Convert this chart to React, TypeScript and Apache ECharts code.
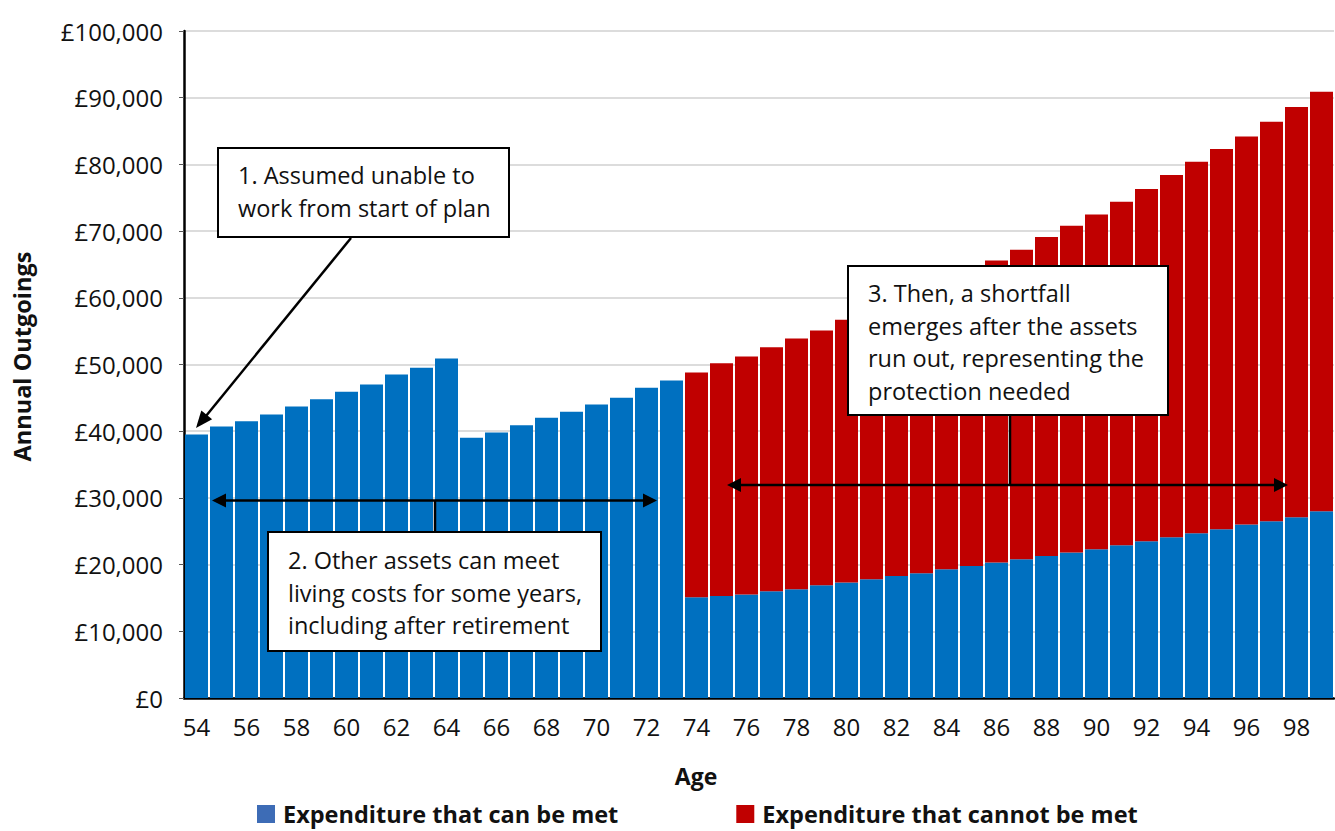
import React, { useEffect, useRef } from "react";
import * as echarts from "echarts";

const ages = [
  "54", "55", "56", "57", "58", "59", "60", "61", "62", "63", "64", "65", "66", "67", "68", "69", "70", "71", "72", "73",
  "74", "75", "76", "77", "78", "79", "80", "81", "82", "83", "84", "85", "86", "87", "88", "89", "90", "91", "92", "93",
  "94", "95", "96", "97", "98", "99",
];

const metValues = [
  39500, 40700, 41500, 42500, 43700, 44800, 45900, 47000, 48500, 49500, 50900,
  39000, 39800, 40900, 42000, 42900, 44000, 45000, 46500, 47600,
  15100, 15300, 15500, 16000, 16300, 16900, 17300, 17800, 18300, 18700, 19300, 19800, 20300,
  20800, 21300, 21800, 22300, 22900, 23500, 24100, 24700, 25300, 26000, 26500, 27100, 28000,
];

const unmetValues = [
  0, 0, 0, 0, 0, 0, 0, 0, 0, 0, 0, 0, 0, 0, 0, 0, 0, 0, 0, 0,
  33700, 34900, 35700, 36600, 37600, 38200, 39400, 40500, 41600, 42800, 43500, 44400, 45300,
  46400, 47800, 49000, 50200, 51500, 52800, 54300, 55700, 57000, 58200, 59900, 61500, 62900,
];

const seriesNames = ["Expenditure that can be met", "Expenditure that cannot be met"];
const yTicks = { min: 0, max: 100000, interval: 10000 };

const FONT = "'Open Sans', 'Noto Sans', sans-serif";

function arrowHead(tipX: number, tipY: number, dirX: number, dirY: number, len = 15, half = 7) {
  const l = Math.hypot(dirX, dirY);
  const ux = dirX / l;
  const uy = dirY / l;
  const bx = tipX - ux * len;
  const by = tipY - uy * len;
  const px = -uy * half;
  const py = ux * half;
  return {
    type: "polygon",
    shape: { points: [[tipX, tipY], [bx + px, by + py], [bx - px, by - py]] },
    style: { fill: "#000" },
    z: 100,
  };
}

function box(x: number, y: number, w: number, h: number, lines: string[], tx: number, ty: number) {
  return [
    {
      type: "rect",
      shape: { x, y, width: w, height: h },
      style: { fill: "#fff", stroke: "#000", lineWidth: 2 },
      z: 100,
    },
    {
      type: "text",
      x: tx,
      y: ty,
      style: {
        text: lines.join("\n"),
        font: `23.5px ${FONT}`,
        fill: "#111",
        lineHeight: 32.5,
        verticalAlign: "top",
        align: "left",
      },
      z: 101,
    },
  ];
}

function line(x1: number, y1: number, x2: number, y2: number) {
  return {
    type: "line",
    shape: { x1, y1, x2, y2 },
    style: { stroke: "#000", lineWidth: 2.5 },
    z: 100,
  };
}

export default function App() {
  const ref = useRef<HTMLDivElement>(null);

  useEffect(() => {
    document.body.style.margin = "0";
    const chart = echarts.init(ref.current!, null, { renderer: "svg" });

    const graphic: any[] = [
      // Box 1
      ...box(218, 148, 291, 89, ["1. Assumed unable to", "work from start of plan"], 238, 159),
      line(351, 238, 206, 416),
      arrowHead(196, 428, -154, 189, 17, 7),
      // Arrow 2
      line(222, 500.5, 647, 500.5),
      arrowHead(212, 500.5, -1, 0, 14, 7),
      arrowHead(657, 500.5, 1, 0, 14, 7),
      line(435, 500.5, 435, 532),
      ...box(268, 532, 333, 119, ["2. Other assets can meet", "living costs for some years,", "including after retirement"], 288, 544),
      // Arrow 3
      line(737, 485, 1277, 485),
      arrowHead(727, 485, -1, 0, 14, 7),
      arrowHead(1288, 485, 1, 0, 14, 7),
      line(1010, 415, 1010, 486),
      ...box(848, 266, 320, 149, ["3. Then, a shortfall", "emerges after the assets", "run out, representing the", "protection needed"], 868, 277),
    ];

    chart.setOption({
      animation: false,
      backgroundColor: "#fff",
      textStyle: { fontFamily: FONT },
      grid: { left: 184, right: 1, top: 31, bottom: 133, containLabel: false, outerBoundsMode: "none" },
      legend: {
        left: 257,
        top: 802,
        padding: 0,
        itemWidth: 18,
        itemHeight: 18,
        itemGap: 118,
        icon: "rect",
        textStyle: {
          fontFamily: FONT,
          fontSize: 23.5,
          lineHeight: 24,
          fontWeight: "bold",
          color: "#111",
          padding: [0, 0, 0, 3],
        },
        data: [
          { name: seriesNames[0], itemStyle: { color: "#3D6CB6" } },
          { name: seriesNames[1], itemStyle: { color: "#C00000" } },
        ],
      },
      xAxis: {
        type: "category",
        data: ages,
        name: "Age",
        nameLocation: "middle",
        nameGap: 66,
        nameTextStyle: { fontFamily: FONT, fontSize: 23, fontWeight: "bold", color: "#111", padding: [0, 126, 0, 0] },
        axisLine: { lineStyle: { color: "#000", width: 2.5 } },
        axisTick: { show: false },
        axisLabel: { interval: 1, fontSize: 24, color: "#111", margin: 16, fontFamily: FONT },
      },
      yAxis: {
        type: "value",
        min: yTicks.min,
        max: yTicks.max,
        interval: yTicks.interval,
        name: "Annual Outgoings",
        nameLocation: "middle",
        nameRotate: 90,
        nameGap: 150,
        nameTextStyle: { fontFamily: FONT, fontSize: 23.5, fontWeight: "bold", color: "#111", padding: [0, 0, 0, 16] },
        axisLine: { show: true, lineStyle: { color: "#000", width: 2.5 } },
        axisTick: { show: true, length: 5, lineStyle: { color: "#555" } },
        splitLine: { lineStyle: { color: "#dcdcdc", width: 2 } },
        axisLabel: {
          fontSize: 24,
          color: "#111",
          margin: 21,
          fontFamily: FONT,
          formatter: (v: number) => "£" + v.toLocaleString("en-GB"),
        },
      },
      series: [
        {
          name: seriesNames[0],
          type: "bar",
          stack: "total",
          data: metValues,
          barCategoryGap: "8%",
          itemStyle: { color: "#0070C0" },
        },
        {
          name: seriesNames[1],
          type: "bar",
          stack: "total",
          data: unmetValues,
          barCategoryGap: "8%",
          itemStyle: { color: "#C00000" },
        },
      ],
      graphic,
    });

    return () => chart.dispose();
  }, []);

  return <div ref={ref} style={{ position: "absolute", left: 0, top: 0, width: 1335, height: 831 }} />;
}
